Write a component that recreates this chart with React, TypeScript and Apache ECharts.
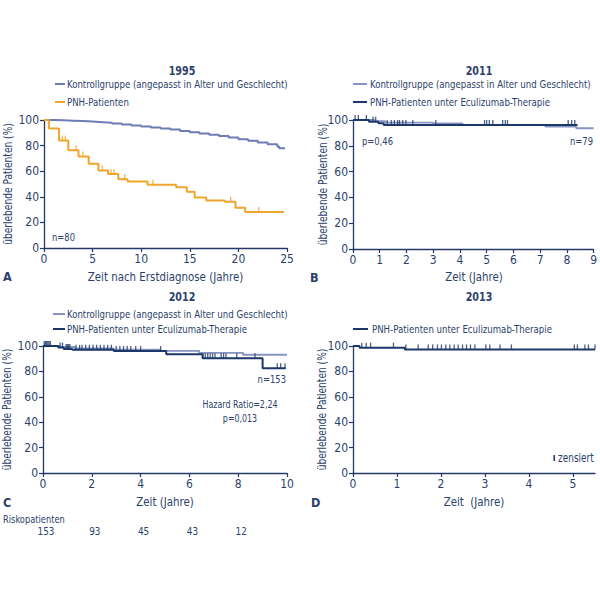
import React, { useEffect, useRef } from "react";
import * as echarts from "echarts";

// ---------- data ----------
const titles = ["1995", "2011", "2012", "2013"];
const panelLetters = ["A", "B", "C", "D"];
const xNames = ["Zeit nach Erstdiagnose (Jahre)", "Zeit (Jahre)", "Zeit (Jahre)", "Zeit  (Jahre)"];
const yName = "überlebende Patienten (%)";
const xMax = [25, 9, 10, 5.5];
const xInterval = [5, 1, 2, 1];
const yTicks = [0, 20, 40, 60, 80, 100];

const legendControl = "Kontrollgruppe (angepasst in Alter und Geschlecht)";
const legendPNH = "PNH-Patienten";
const legendPNHEcu = "PNH-Patienten unter Eculizumab-Therapie";

// Panel A (1995)
const aControl: [number, number][] = [
  [0, 100], [1, 99.8], [2, 99.5], [3, 99.2], [4, 98.8], [5, 98.3], [6, 97.8], [7, 97.2],
  [8, 96.5], [9, 95.8], [10, 95], [11, 94.2], [12, 93.4], [13, 92.5], [14, 91.5], [15, 90.5],
  [16, 89.5], [17, 88.5], [18, 87.5], [19, 86.3], [20, 85], [21, 83.8], [22, 82.5], [23, 81],
  [24, 79.3], [24.2, 78], [24.8, 78],
];
const aPNH: [number, number][] = [
  [0, 100], [0.5, 93.3], [1.55, 83.9], [2.5, 76.3], [3.55, 71.4], [4.6, 65.8], [5.6, 60.5],
  [6.6, 57.8], [7.65, 53.8], [8.6, 52], [10.65, 49.4], [13.6, 47.4], [14.7, 44], [15.5, 39.5],
  [16.7, 37.2], [18.6, 36.2], [19.7, 31.5], [20.7, 28.2], [24.7, 28.2],
];
const aCensor = [1.9, 2.2, 3.3, 4.0, 6.0, 6.9, 7.2, 8.3, 11.2, 19.2, 22.1];
const aNText = "n=80";

// Panel B (2011)
const bControl: [number, number][] = [
  [0, 100], [0.8, 99.2], [1.2, 98], [3.0, 97.3], [4.1, 96.2], [7.2, 94.8], [8.35, 93.6], [9, 93.6],
];
const bPNH: [number, number][] = [
  [0, 100], [0.6, 98.7], [0.95, 97.4], [1.15, 96.1], [8.4, 96.1],
];
const bCensor = [0.08, 0.2, 0.5, 0.75, 0.85, 1.28, 1.43, 1.55, 1.67, 1.74, 1.86, 1.98, 2.24, 3.1,
  4.92, 5.0, 5.1, 5.23, 5.6, 5.7, 5.78, 8.05, 8.18, 8.3];
const bPText = "p=0,46";
const bNText = "n=79";

// Panel C (2012)
const cControl: [number, number][] = [
  [0, 100], [0.7, 99.2], [1.3, 98.2], [2.9, 97.2], [4.8, 96.2], [6.4, 94.6], [8.2, 93.1], [10, 93.1],
];
const cPNH: [number, number][] = [
  [0, 100], [0.62, 98.8], [0.85, 97.6], [1.2, 97], [2.9, 96], [5.05, 93.5], [6.54, 90.3],
  [9.0, 82.4], [9.95, 82.4],
];
const cCensor = [0.05, 0.1, 0.15, 0.2, 0.25, 0.3, 0.7, 0.8, 0.95, 1.0, 1.05, 1.1, 1.35, 1.5, 1.6,
  1.75, 1.9, 2.05, 2.2, 2.35, 2.5, 2.65, 2.8, 3.0, 3.15, 3.3, 3.45, 3.6, 3.8, 4.0, 4.82, 6.55,
  6.65, 6.75, 6.85, 6.95, 7.05, 7.3, 7.4, 7.5, 7.94, 8.69, 9.6, 9.74, 9.92];
const cNText = "n=153";
const cHRText = "Hazard Ratio=2,24";
const cPText = "p=0,013";
const riskLabel = "Riskopatienten";
const riskTimes = [0, 2, 4, 6, 8];
const riskCounts = [153, 93, 45, 43, 12];

// Panel D (2013)
const dPNH: [number, number][] = [[0, 100], [0.15, 98.7], [1.18, 97.3], [5.5, 97.3]];
const dCensor = [0.2, 0.3, 0.4, 0.92, 1.2, 1.48, 1.71, 1.81, 1.92, 2.01, 2.11, 2.2, 2.3, 2.39,
  2.49, 2.58, 2.67, 2.77, 3.02, 3.11, 3.34, 3.6, 5.03, 5.1, 5.27, 5.35, 5.5];
const censorLegend = "zensiert";

// ---------- styles ----------
const FONT = '"DejaVu Sans Condensed", "Liberation Sans", sans-serif';
const TICKFONT = '"DejaVu Sans Condensed", "Liberation Sans", sans-serif';
const TXT = "#2c3f6c";
const AX = "#24386a";
const NAVY = "#1c3768";
const LIGHT = "#8894c4";
const SLATE = "#6d7bb6";
const ORANGE = "#f0a52c";

const grids = [
  { left: 44, top: 120, width: 243, height: 128 },
  { left: 353, top: 120, width: 242, height: 129 },
  { left: 43, top: 346, width: 244, height: 127 },
  { left: 353, top: 346, width: 242, height: 127 },
];

function valueAt(curve: [number, number][], t: number): number {
  let v = curve[0][1];
  for (const [x, y] of curve) {
    if (x <= t + 1e-9) v = y;
  }
  return v;
}

function stepSeries(name: string, idx: number, data: [number, number][], color: string, width: number, z: number) {
  return {
    type: "line", name, xAxisIndex: idx, yAxisIndex: idx, data, step: "end",
    symbol: "none", lineStyle: { color, width }, z, silent: true,
  };
}

function censorSeries(idx: number, times: number[], curve: [number, number][], color: string) {
  return {
    type: "scatter", xAxisIndex: idx, yAxisIndex: idx,
    data: times.map((t) => [t, valueAt(curve, t)]),
    symbol: "rect", symbolSize: [1.3, 5], symbolOffset: [0, -2.5],
    itemStyle: { color }, z: 5, silent: true,
  };
}

function text(x: number, y: number, s: string, opts: any = {}) {
  return {
    type: "text", x, y,
    scaleX: opts.sx ?? 0.85,
    rotation: opts.rotation ?? 0,
    style: {
      text: s, fontFamily: FONT, fontSize: opts.fontSize ?? 11, fill: opts.fill ?? TXT,
      fontWeight: opts.fontWeight ?? "normal",
      textAlign: opts.align ?? "left", textVerticalAlign: "middle",
    },
    silent: true,
  };
}

function legendLine(x1: number, x2: number, y: number, color: string) {
  return { type: "line", shape: { x1, y1: y, x2, y2: y }, style: { stroke: color, lineWidth: 2 }, silent: true };
}

export default function App() {
  const ref = useRef<HTMLDivElement>(null);
  useEffect(() => {
    if (!ref.current) return;
    const chart = echarts.init(ref.current, null, { renderer: "svg" });

    const xAxis = grids.map((_, i) => ({
      type: "value", gridIndex: i, min: 0, max: xMax[i], interval: xInterval[i],
      axisLine: { onZero: false, lineStyle: { color: AX, width: 1.3 } },
      axisTick: { length: 4, lineStyle: { color: AX, width: 1.2 } },
      axisLabel: {
        fontFamily: TICKFONT, fontSize: 12, color: TXT, margin: 5,
        showMaxLabel: xMax[i] % xInterval[i] === 0,
      },
      splitLine: { show: false },
    }));
    const yAxis = grids.map((_, i) => ({
      type: "value", gridIndex: i, min: yTicks[0], max: yTicks[yTicks.length - 1],
      interval: yTicks[1] - yTicks[0],
      axisLine: { show: true, lineStyle: { color: AX, width: 1.3 } },
      axisTick: { show: true, length: 4, lineStyle: { color: AX, width: 1.2 } },
      axisLabel: { fontFamily: TICKFONT, fontSize: 12, color: TXT, margin: 5 },
      splitLine: { show: false },
    }));

    const series: any[] = [
      stepSeries(legendControl, 0, aControl, SLATE, 2, 2),
      stepSeries(legendPNH, 0, aPNH, ORANGE, 2, 3),
      censorSeries(0, aCensor, aPNH, ORANGE),
      stepSeries(legendControl, 1, bControl, LIGHT, 1.8, 2),
      stepSeries(legendPNHEcu, 1, bPNH, NAVY, 2, 3),
      censorSeries(1, bCensor, bPNH, NAVY),
      stepSeries(legendControl, 2, cControl, LIGHT, 1.8, 2),
      stepSeries(legendPNHEcu, 2, cPNH, NAVY, 2, 3),
      censorSeries(2, cCensor, cPNH, NAVY),
      stepSeries(legendPNHEcu, 3, dPNH, NAVY, 2, 3),
      censorSeries(3, dCensor, dPNH, NAVY),
    ];

    chart.setOption({
      animation: false,
      backgroundColor: "#ffffff",
      grid: grids.map((g) => ({ ...g, containLabel: false })),
      xAxis, yAxis, series,
    } as any);

    const riskY = 531;
    const riskGraphics = riskTimes.map((t, i) => {
      const px = chart.convertToPixel({ xAxisIndex: 2 } as any, t) as number;
      return text(px + 3, riskY, String(riskCounts[i]), { align: "center", fontSize: 11, sx: 0.9 });
    });

    // axis names, centred on each grid
    const axisNames: any[] = [];
    const xNameY = [277, 277, 502, 502];
    const yNameX = [8, 323, 7, 322];
    grids.forEach((g, i) => {
      axisNames.push(text(g.left + g.width / 2, xNameY[i], xNames[i], { align: "center", fontSize: 12, sx: 0.95 }));
      axisNames.push(text(yNameX[i], g.top + g.height / 2, yName, { align: "center", fontSize: 12, sx: 0.84, rotation: Math.PI / 2 }));
    });

    const graphic: any[] = [
      // titles
      text(182, 71, titles[0], { align: "center", fontWeight: "bold", fontSize: 12.5 }),
      text(479, 71, titles[1], { align: "center", fontWeight: "bold", fontSize: 12.5 }),
      text(182, 297, titles[2], { align: "center", fontWeight: "bold", fontSize: 12.5 }),
      text(479, 297, titles[3], { align: "center", fontWeight: "bold", fontSize: 12.5 }),
      // legends A
      legendLine(55, 65, 84, SLATE), text(67, 84, legendControl, { sx: 0.87 }),
      legendLine(55, 65, 102, ORANGE), text(67, 102, legendPNH, { sx: 0.87 }),
      // legends B
      legendLine(353, 367, 84, LIGHT), text(370, 84, legendControl, { sx: 0.87 }),
      legendLine(353, 367, 102, NAVY), text(370, 102, legendPNHEcu, { sx: 0.87 }),
      // legends C
      legendLine(53, 65, 314, LIGHT), text(67, 314, legendControl, { sx: 0.87 }),
      legendLine(53, 65, 329, NAVY), text(67, 329, legendPNHEcu, { sx: 0.87 }),
      // legend D
      legendLine(353, 368, 329, NAVY), text(372, 329, legendPNHEcu, { sx: 0.87 }),
      // panel letters
      text(3, 276, panelLetters[0], { fontSize: 12.5, fontWeight: "bold", sx: 1 }),
      text(310, 277, panelLetters[1], { fontSize: 12.5, fontWeight: "bold", sx: 1 }),
      text(3, 502, panelLetters[2], { fontSize: 12.5, fontWeight: "bold", sx: 1 }),
      text(311, 502, panelLetters[3], { fontSize: 12.5, fontWeight: "bold", sx: 1 }),
      // annotations
      text(52, 237, aNText, { fontSize: 11 }),
      text(362, 141, bPText, { fontSize: 11 }),
      text(593, 141, bNText, { fontSize: 11, align: "right" }),
      text(286, 379, cNText, { fontSize: 11, align: "right" }),
      text(240, 404, cHRText, { fontSize: 11, align: "center", sx: 0.8 }),
      text(240, 418, cPText, { fontSize: 11, align: "center", sx: 0.8 }),
      // censored legend
      { type: "rect", shape: { x: 553.5, y: 455, width: 1.5, height: 6 }, style: { fill: NAVY }, silent: true },
      text(558, 458, censorLegend, { fontSize: 12, sx: 0.83 }),
      // risk table
      text(3, 519, riskLabel, { fontSize: 11, sx: 0.84 }),
      ...riskGraphics,
      ...axisNames,
    ];
    chart.setOption({ graphic });

    return () => chart.dispose();
  }, []);

  return (
    <div
      ref={ref}
      style={{ position: "fixed", left: 0, top: 0, width: 600, height: 600, background: "#fff" }}
    />
  );
}
